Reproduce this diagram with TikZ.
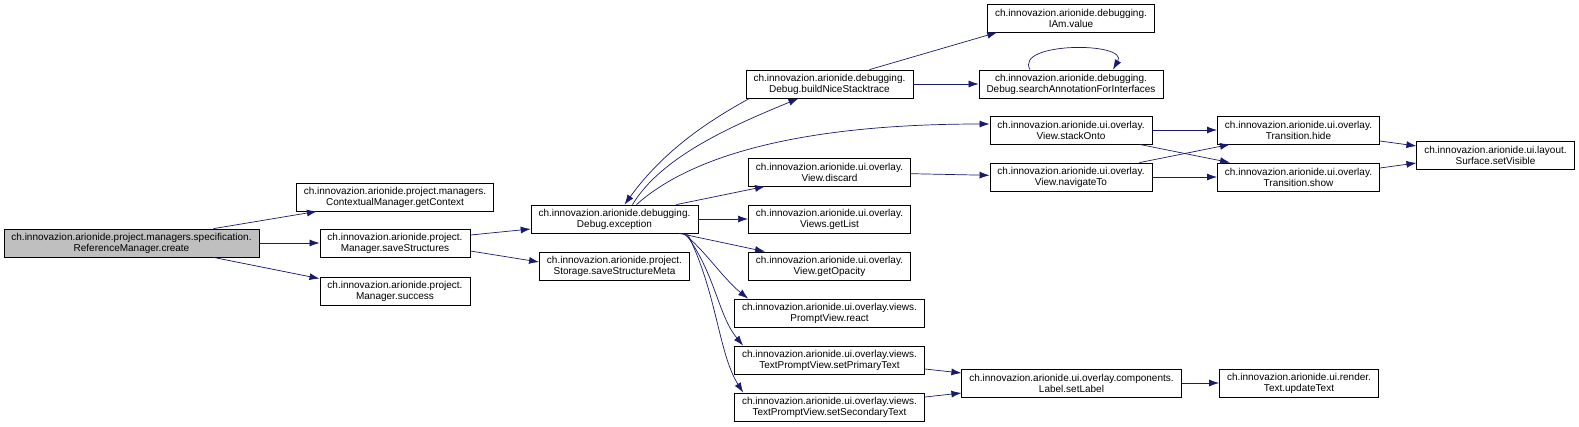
\documentclass[tikz,border=0pt]{standalone}
\usepackage{fontspec}
\setmainfont{Liberation Sans}
\usepackage{tikz}
\usetikzlibrary{arrows.meta}
\usepackage{xcolor}
\definecolor{callblue}{rgb}{0.1, 0.1, 0.44}
\definecolor{rootgrey}{rgb}{0.75, 0.75, 0.75}

\begin{document}
\begin{tikzpicture}[x=1pt, y=1pt,
			member/.style={draw=black, line width=0.8pt, fill=white, minimum height=28pt, inner xsep=7.5pt, inner ysep=2pt, align=center, font=\fontsize{10pt}{11pt}\selectfont},
			callstyle/.style={-{Latex[length=10pt, width=7pt]}, line width=0.7pt, callblue}
		]
		\useasboundingbox (0,0) rectangle (1579,-426);
		\node[member, fill=rootgrey] (create) at (131.5,-243) {ch.innovazion.arionide.project.managers.specification.\\ReferenceManager.create};
		\node[member] (getcontext) at (395,-197) {ch.innovazion.arionide.project.managers.\\ContextualManager.getContext};
		\node[member] (savestructures) at (395,-243) {ch.innovazion.arionide.project.\\Manager.saveStructures};
		\node[member] (success) at (395,-291) {ch.innovazion.arionide.project.\\Manager.success};
		\node[member] (exception) at (614.5,-219) {ch.innovazion.arionide.debugging.\\Debug.exception};
		\node[member] (savemeta) at (614.5,-266) {ch.innovazion.arionide.project.\\Storage.saveStructureMeta};
		\node[member] (buildtrace) at (829.5,-84) {ch.innovazion.arionide.debugging.\\Debug.buildNiceStacktrace};
		\node[member] (discard) at (829.5,-172) {ch.innovazion.arionide.ui.overlay.\\View.discard};
		\node[member] (getlist) at (829.5,-219) {ch.innovazion.arionide.ui.overlay.\\Views.getList};
		\node[member] (getopacity) at (829.5,-266) {ch.innovazion.arionide.ui.overlay.\\View.getOpacity};
		\node[member] (react) at (829.5,-313) {ch.innovazion.arionide.ui.overlay.views.\\PromptView.react};
		\node[member] (setprimary) at (829.5,-360) {ch.innovazion.arionide.ui.overlay.views.\\TextPromptView.setPrimaryText};
		\node[member] (setsecondary) at (829.5,-407) {ch.innovazion.arionide.ui.overlay.views.\\TextPromptView.setSecondaryText};
		\node[member] (iamvalue) at (1071,-18) {ch.innovazion.arionide.debugging.\\IAm.value};
		\node[member] (searchannot) at (1071,-84) {ch.innovazion.arionide.debugging.\\Debug.searchAnnotationForInterfaces};
		\node[member] (stackonto) at (1071,-130) {ch.innovazion.arionide.ui.overlay.\\View.stackOnto};
		\node[member] (navigateto) at (1071,-177) {ch.innovazion.arionide.ui.overlay.\\View.navigateTo};
		\node[member] (setlabel) at (1071.5,-383) {ch.innovazion.arionide.ui.overlay.components.\\Label.setLabel};
		\node[member] (hide) at (1298.5,-130) {ch.innovazion.arionide.ui.overlay.\\Transition.hide};
		\node[member] (show) at (1298.5,-177) {ch.innovazion.arionide.ui.overlay.\\Transition.show};
		\node[member] (updatetext) at (1299,-383) {ch.innovazion.arionide.ui.render.\\Text.updateText};
		\node[member] (setvisible) at (1495.5,-155) {ch.innovazion.arionide.ui.layout.\\Surface.setVisible};
		\draw[callstyle] ([xshift=82pt]create.north) -- ([xshift=21pt]getcontext.south west);
		\draw[callstyle] (create) -- (savestructures);
		\draw[callstyle] ([xshift=82pt]create.south) -- ([yshift=-2pt]success.north west);
		\draw[callstyle] ([yshift=8pt]savestructures.east) -- ([yshift=-10pt]exception.west);
		\draw[callstyle] ([yshift=-8pt]savestructures.east) -- ([yshift=4pt]savemeta.west);
		\draw[callstyle] ([xshift=18pt]exception.north) .. controls +(30,50) and +(-60,-25) .. ([xshift=-31pt]buildtrace.south);
		\draw[callstyle] ([xshift=-80pt]buildtrace.south) .. controls +(-40,-22) and +(40,55) .. ([xshift=10pt]exception.north);
		\draw[callstyle] ([xshift=22pt]exception.north) .. controls +(50,45) and +(-200,0) .. ([yshift=6pt]stackonto.west);
		\draw[callstyle] ([xshift=-22pt]exception.north east) -- ([xshift=17pt]discard.south west);
		\draw[callstyle] (exception) -- (getlist);
		\draw[callstyle] ([xshift=-19pt]exception.south east) -- ([xshift=17pt]getopacity.north west);
		\draw[callstyle] ([xshift=-15pt]exception.south east) .. controls +(20,-15) and +(-25,20) .. ([xshift=14pt]react.north west);
		\draw[callstyle] ([xshift=-13pt]exception.south east) .. controls +(30,-40) and +(-25,30) .. ([xshift=9pt]setprimary.north west);
		\draw[callstyle] ([xshift=-11pt]exception.south east) .. controls +(30,-60) and +(-25,40) .. ([xshift=9pt]setsecondary.north west);
		\draw[callstyle] ([xshift=40pt]buildtrace.north) -- ([xshift=10pt]iamvalue.south west);
		\draw[callstyle] (buildtrace) -- (searchannot);
		\draw[callstyle] ([xshift=-41pt]searchannot.north) .. controls +(-16,28) and +(16,28) .. ([xshift=42pt]searchannot.north);
		\draw[callstyle] (discard) -- (navigateto);
		\draw[callstyle] (stackonto) -- (hide);
		\draw[callstyle] ([xshift=-13pt]stackonto.south east) -- ([xshift=13pt]show.north west);
		\draw[callstyle] ([xshift=-13pt]navigateto.north east) -- ([xshift=13pt]hide.south west);
		\draw[callstyle] (navigateto) -- (show);
		\draw[callstyle] ([yshift=-11pt]hide.east) -- ([yshift=9pt]setvisible.west);
		\draw[callstyle] ([yshift=9pt]show.east) -- ([yshift=-8pt]setvisible.west);
		\draw[callstyle] ([yshift=-9pt]setprimary.east) -- ([yshift=10pt]setlabel.west);
		\draw[callstyle] ([yshift=10pt]setsecondary.east) -- ([yshift=-10pt]setlabel.west);
		\draw[callstyle] (setlabel) -- (updatetext);
	\end{tikzpicture}
\end{document}
